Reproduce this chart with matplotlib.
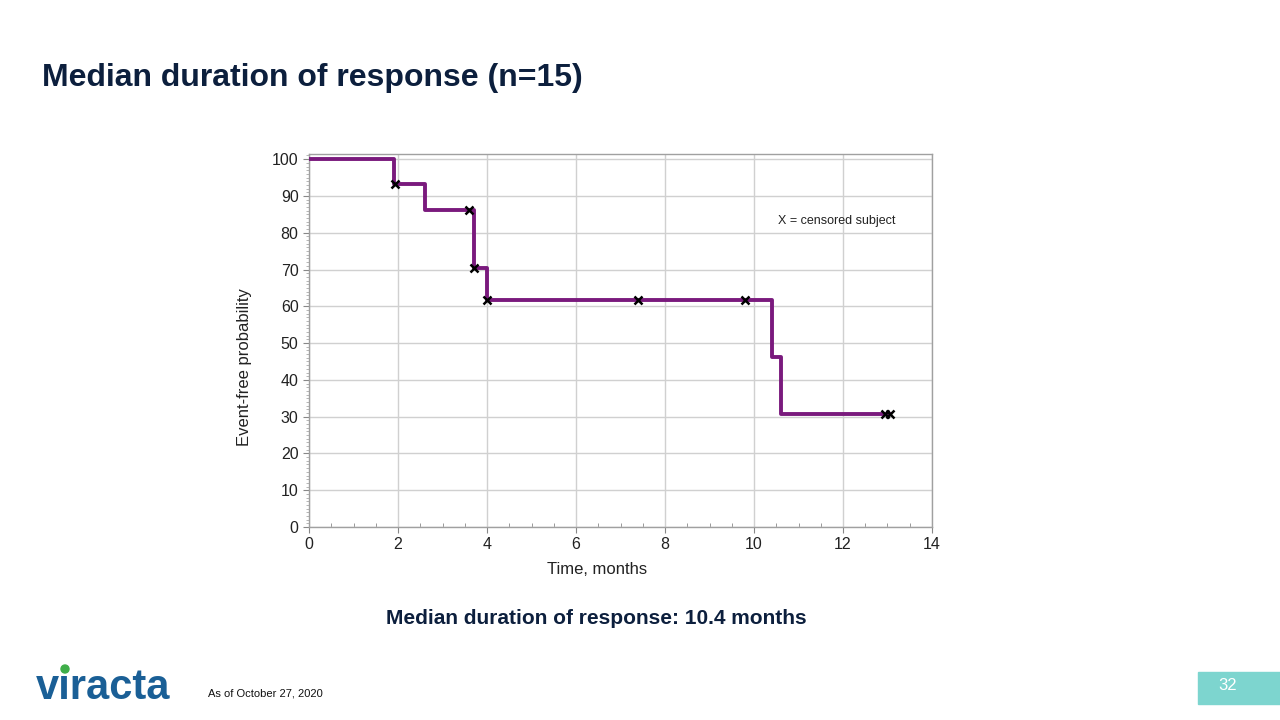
import matplotlib
matplotlib.use("Agg")
import matplotlib.pyplot as plt
from matplotlib.patches import Rectangle, Ellipse
from matplotlib.ticker import MultipleLocator

# Kaplan-Meier step data
step_times = [0.0, 1.9, 2.6, 3.7, 4.0, 10.4, 10.6, 13.05]
step_surv = [100.0, 93.3, 86.2, 70.5, 61.7, 46.3, 30.8, 30.8]
cens_times = [1.93, 3.6, 3.7, 4.0, 7.4, 9.8, 12.95, 13.05]
cens_surv = [93.3, 86.2, 70.5, 61.7, 61.7, 61.7, 30.8, 30.8]

x_ticks = [0, 2, 4, 6, 8, 10, 12, 14]
y_ticks = [0, 10, 20, 30, 40, 50, 60, 70, 80, 90, 100]

NAVY = "#0c1f3d"
PURPLE = "#7a1a7d"

plt.rcParams['font.family'] = ['Liberation Sans', 'DejaVu Sans']

fig = plt.figure(figsize=(12.8, 7.2), dpi=100)

# axes in pixel coords: left 309, right 932, top 154, bottom 527
W, H = 1280.0, 720.0
ax = fig.add_axes([309 / W, 1 - 527 / H, (932 - 309) / W, (527 - 154) / H])

ax.step(step_times, step_surv, where="post", color=PURPLE, lw=2.8, zorder=3)
ax.plot(cens_times, cens_surv, ls="none", marker="x", color="black",
        ms=6, mew=1.8, zorder=4)

ax.set_xlim(0, 14)
ax.set_ylim(0, 101.4)
ax.set_xticks(x_ticks)
ax.set_yticks(y_ticks)
ax.xaxis.set_minor_locator(MultipleLocator(0.5))
ax.yaxis.set_minor_locator(MultipleLocator(1))
ax.grid(True, which="major", color="#d0d0d0", lw=1.0, zorder=0)
ax.tick_params(axis="both", which="major", labelsize=11.5, length=4,
               color="#888888", labelcolor="#222222")
ax.tick_params(axis="x", which="minor", direction="in", length=3, color="#888888")
ax.tick_params(axis="y", which="minor", direction="out", length=2, color="#aaaaaa")
for sp in ax.spines.values():
    sp.set_color("#a0a0a0")
    sp.set_linewidth(1.0)

ax.text(10.55, 83.2, "X = censored subject", fontsize=9, color="#222222",
        va="center", ha="left")

fig.text(597 / W, 1 - 570 / H, "Time, months", fontsize=12, color="#222222",
         ha="center", va="center")
fig.text(245 / W, 1 - 367 / H, "Event-free probability", rotation=90,
         fontsize=12, color="#222222", ha="center", va="center")

# slide text
fig.text(42 / W, 1 - 78 / H, "Median duration of response (n=15)",
         fontsize=23, fontweight="bold", color=NAVY, ha="left", va="center")
fig.text(596 / W, 1 - 618 / H, "Median duration of response: 10.4 months",
         fontsize=15, fontweight="bold", color=NAVY, ha="center", va="center")
fig.text(208 / W, 1 - 693 / H, "As of October 27, 2020",
         fontsize=8, color="#111111", ha="left", va="center")

# logo (dotless i, green dot on top)
fig.text(36 / W, 1 - 688 / H, "v\u0131racta", fontsize=30, fontweight="bold",
         color="#1a5f96", ha="left", va="center")
fig.patches.append(Ellipse((65 / W, 1 - 669 / H), 8 / W, 8 / H,
                           transform=fig.transFigure, color="#3fae49", zorder=5))

# page number box
fig.patches.append(Rectangle((1198 / W, 1 - 704 / H), 82 / W, 32 / H,
                             transform=fig.transFigure, color="#7dd5cf"))
fig.text(1228 / W, 1 - 686 / H, "32", fontsize=12, color="white",
         ha="center", va="center")

fig.savefig("out.png", dpi=100)
